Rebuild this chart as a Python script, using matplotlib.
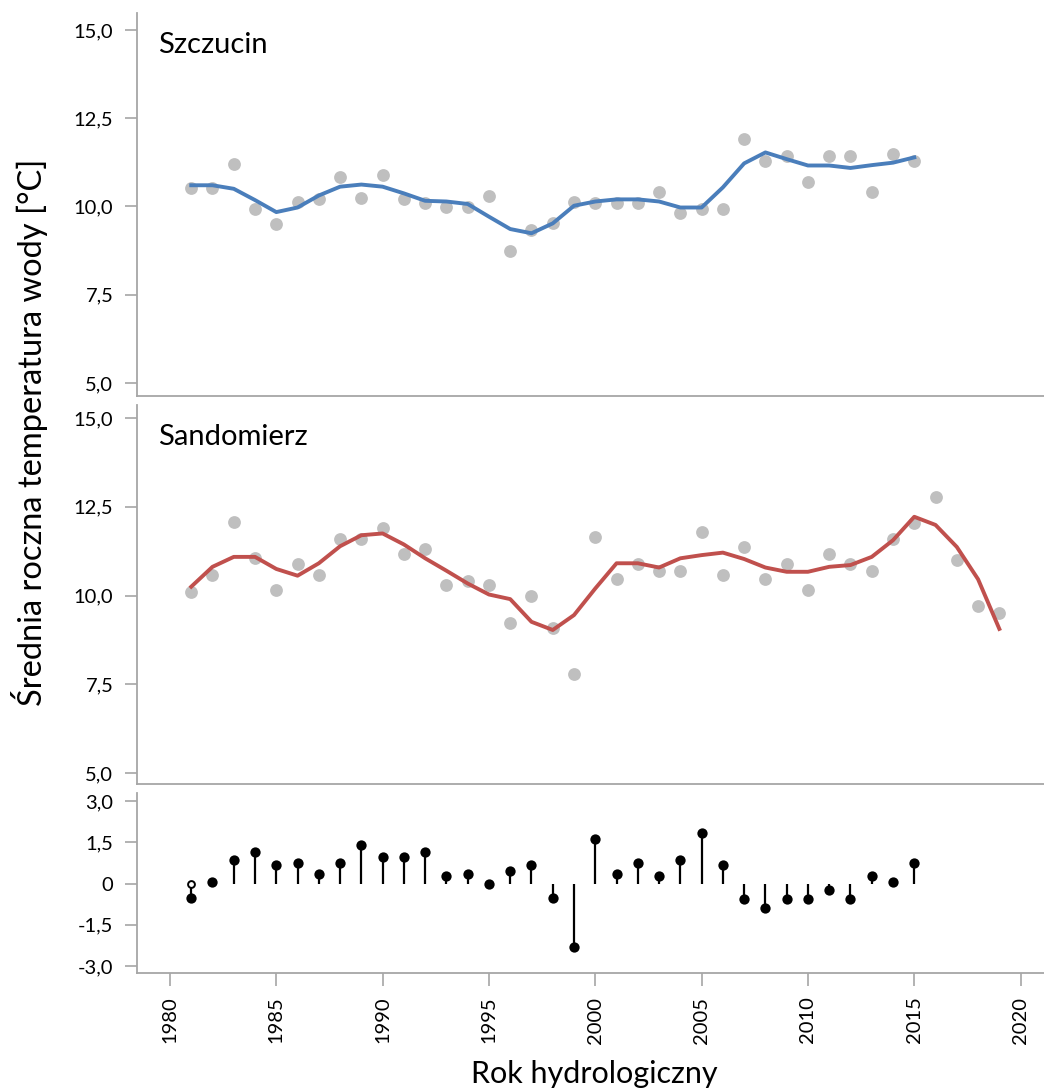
import matplotlib
matplotlib.use('Agg')
import matplotlib.pyplot as plt
import numpy as np

plt.rcParams['font.family'] = ['Lato', 'DejaVu Sans']

# hydrological years
years = list(range(1981, 2020))

# Szczucin: annual means and smoothed curve (1981-2015)
szcz_years = list(range(1981, 2016))
szcz_mean = [10.52, 10.52, 11.20, 9.93, 9.50, 10.13, 10.21, 10.84, 10.23, 10.88,
             10.21, 10.09, 9.98, 9.98, 10.30, 8.74, 9.33, 9.52, 10.12, 10.11,
             10.09, 10.09, 10.40, 9.81, 9.92, 9.93, 11.90, 11.30, 11.43, 10.70,
             11.43, 11.43, 10.40, 11.49, 11.30]
szcz_smooth = [10.60, 10.60, 10.50, 10.18, 9.84, 9.97, 10.31, 10.56, 10.62, 10.56,
               10.37, 10.16, 10.14, 10.07, 9.71, 9.36, 9.24, 9.52, 10.02, 10.14,
               10.20, 10.20, 10.14, 9.97, 9.97, 10.54, 11.22, 11.53, 11.34, 11.16,
               11.16, 11.09, 11.17, 11.24, 11.39]

# Sandomierz: annual means and smoothed curve (1981-2019)
sand_mean = [10.11, 10.58, 12.07, 11.07, 10.17, 10.89, 10.58, 11.60, 11.58, 11.89,
             11.17, 11.30, 10.30, 10.41, 10.30, 9.22, 9.99, 9.10, 7.79, 11.66,
             10.46, 10.89, 10.70, 10.70, 11.78, 10.58, 11.36, 10.46, 10.88, 10.17,
             11.17, 10.88, 10.70, 11.59, 12.05, 12.78, 11.00, 9.70, 9.52]
sand_smooth = [10.25, 10.81, 11.09, 11.09, 10.75, 10.56, 10.91, 11.39, 11.70, 11.75,
               11.44, 11.05, 10.70, 10.34, 10.03, 9.90, 9.26, 9.03, 9.45, 10.20,
               10.91, 10.91, 10.79, 11.05, 11.14, 11.21, 11.03, 10.79, 10.67, 10.67,
               10.81, 10.86, 11.09, 11.56, 12.22, 11.99, 11.37, 10.46, 9.06]

# difference Sandomierz - Szczucin
diff = [-0.51, 0.06, 0.84, 1.15, 0.68, 0.75, 0.34, 0.75, 1.39, 0.97,
        0.97, 1.15, 0.27, 0.36, -0.02, 0.47, 0.68, -0.51, -2.30, 1.61,
        0.34, 0.75, 0.27, 0.84, 1.85, 0.68, -0.57, -0.90, -0.57, -0.57,
        -0.25, -0.57, 0.27, 0.06, 0.75]
diff_open_year = [1981]
diff_open_val = [0.0]

temp_ticks = [5.0, 7.5, 10.0, 12.5, 15.0]
temp_labels = ['5,0', '7,5', '10,0', '12,5', '15,0']
diff_ticks = [-3.0, -1.5, 0.0, 1.5, 3.0]
diff_labels = ['-3,0', '-1,5', '0', '1,5', '3,0']
x_ticks = [1980, 1985, 1990, 1995, 2000, 2005, 2010, 2015, 2020]

spine_col = '#a6a6a6'
dot_col = '#bfbfbf'

fig = plt.figure(figsize=(10.44, 10.90), dpi=100)
W, H = 1044.0, 1090.0
left = 137 / W
width = 1 - left


def make_ax(top_px, bot_px):
    return fig.add_axes([left, 1 - bot_px / H, width, (bot_px - top_px) / H])


ax1 = make_ax(13, 396)
ax2 = make_ax(405, 784)
ax3 = make_ax(793, 973)

for ax in (ax1, ax2, ax3):
    ax.set_xlim(1978.45, 2021.1)
    for s in ('top', 'right'):
        ax.spines[s].set_visible(False)
    for s in ('left', 'bottom'):
        ax.spines[s].set_color(spine_col)
        ax.spines[s].set_linewidth(1.3)
    ax.tick_params(axis='y', direction='out', length=9, width=1.2,
                   color=spine_col, labelsize=14.5, pad=8)
    ax.set_xticks(x_ticks)

for ax in (ax1, ax2):
    ax.tick_params(axis='x', length=0, labelbottom=False)

ax3.tick_params(axis='x', direction='out', length=9, width=1.2,
                color=spine_col, labelsize=14.5, pad=8, labelrotation=90)

# temperature panels
ax1.scatter(szcz_years, szcz_mean, s=85, color=dot_col, zorder=2, linewidths=0)
ax1.plot(szcz_years, szcz_smooth, color='#4a7ebb', lw=2.8, zorder=3)
ax1.set_ylim(4.63, 15.48)
ax1.set_yticks(temp_ticks)
ax1.set_yticklabels(temp_labels)
ax1.text(0.023, 0.916, 'Szczucin', transform=ax1.transAxes, fontsize=21,
         va='center', ha='left')

ax2.scatter(years, sand_mean, s=85, color=dot_col, zorder=2, linewidths=0)
ax2.plot(years, sand_smooth, color='#c0504d', lw=2.8, zorder=3)
ax2.set_ylim(4.69, 15.37)
ax2.set_yticks(temp_ticks)
ax2.set_yticklabels(temp_labels)
ax2.text(0.023, 0.916, 'Sandomierz', transform=ax2.transAxes, fontsize=21,
         va='center', ha='left')

# difference panel as stems
ax3.vlines(szcz_years, 0, diff, color='black', lw=1.6, zorder=2)
ax3.scatter(szcz_years, diff, s=55, color='black', zorder=3, linewidths=0)
ax3.scatter(diff_open_year, diff_open_val, s=24, facecolor='white',
            edgecolor='black', linewidths=1.4, zorder=3)
ax3.set_ylim(-3.25, 3.29)
ax3.set_yticks(diff_ticks)
ax3.set_yticklabels(diff_labels)

fig.text(30 / W, 1 - 432 / H, 'Średnia roczna temperatura wody [°C]',
         rotation=90, ha='center', va='center', fontsize=23.5)
fig.text(594 / W, 1 - 1074 / H, 'Rok hydrologiczny',
         ha='center', va='center', fontsize=22)

plt.savefig('out.png', dpi=100)
